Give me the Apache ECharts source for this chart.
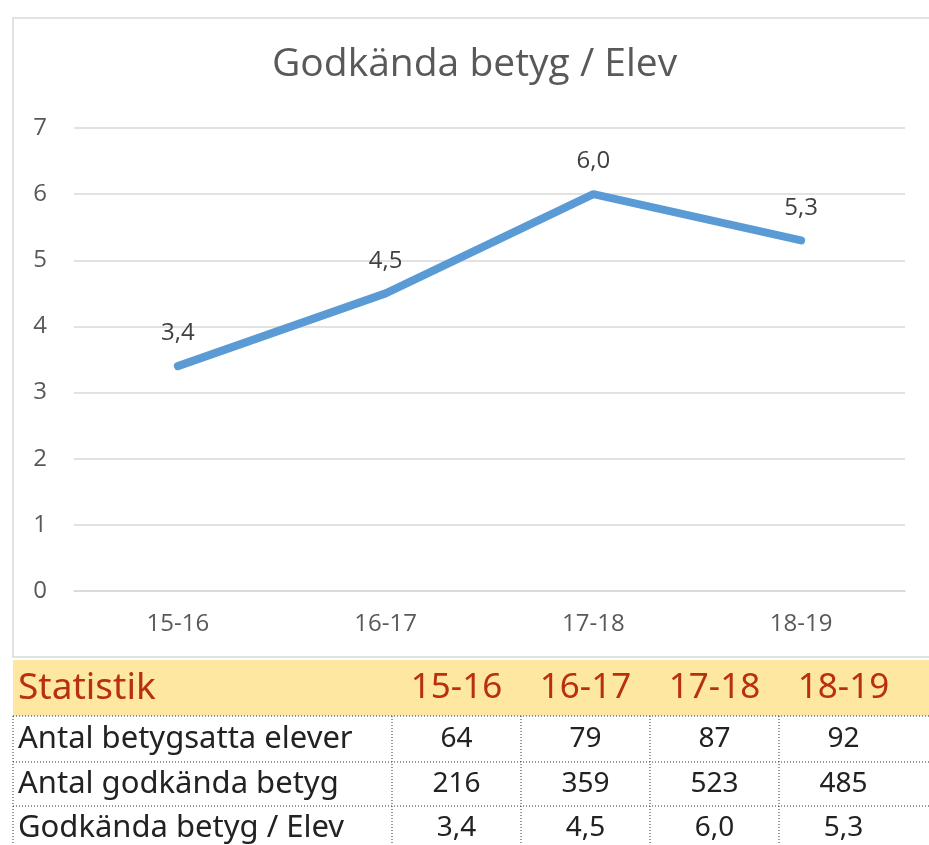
<!DOCTYPE html>
<html>
<head>
<meta charset="utf-8">
<script src="https://cdn.jsdelivr.net/npm/echarts@6/dist/echarts.min.js"></script>
<style>html,body{margin:0;padding:0;background:#fff}#c{width:929px;height:845px}</style>
</head>
<body>
<div id="c"></div>
<script>
const chartTitle = 'Godkända betyg / Elev';
const categories = ['15-16', '16-17', '17-18', '18-19'];
const values = [3.4, 4.5, 6.0, 5.3];
const yTicks = [0, 1, 2, 3, 4, 5, 6, 7];
const tableTitle = 'Statistik';
const rowLabels = ['Antal betygsatta elever', 'Antal godkända betyg', 'Godkända betyg / Elev'];
const students = [64, 79, 87, 92];
const passed = [216, 359, 523, 485];
const perStudent = [3.4, 4.5, 6.0, 5.3];

const fmt1 = v => v.toFixed(1).replace('.', ',');

const chart = echarts.init(document.getElementById('c'), null, {renderer: 'canvas'});
const FONT = 'Open Sans';
const TFONT = 'Noto Sans';

// table layout
const colEdges = [13, 392, 521, 650, 779, 908];
const headTop = 660, rowEdges = [716, 762, 806, 850];
const g = [];
g.push({type: 'rect', shape: {x: 13, y: 18, width: 940, height: 639}, style: {fill: 'none', stroke: '#d9d9d9', lineWidth: 1.5}, z: 0});
g.push({type: 'rect', shape: {x: 13, y: headTop, width: 920, height: rowEdges[0] - headTop}, style: {fill: '#fee7a0'}, z: 1});
g.push({type: 'text', x: 18, y: (headTop + rowEdges[0]) / 2, style: {text: tableTitle, font: '37px "' + TFONT + '"', fill: '#b8300c', textVerticalAlign: 'middle', textAlign: 'left'}, z: 2});
categories.forEach((c, i) => {
  g.push({type: 'text', x: (colEdges[i + 1] + colEdges[i + 2]) / 2, y: (headTop + rowEdges[0]) / 2, style: {text: c, font: '35px "' + TFONT + '"', fill: '#b8300c', textVerticalAlign: 'middle', textAlign: 'center'}, z: 2});
});
const rows = [students.map(String), passed.map(String), perStudent.map(fmt1)];
rows.forEach((r, ri) => {
  const cy = (rowEdges[ri] + rowEdges[ri + 1]) / 2;
  g.push({type: 'text', x: 18, y: cy, style: {text: rowLabels[ri], font: '31px "' + TFONT + '"', fill: '#222', textVerticalAlign: 'middle', textAlign: 'left'}, z: 2});
  r.forEach((v, ci) => {
    g.push({type: 'text', x: (colEdges[ci + 1] + colEdges[ci + 2]) / 2, y: cy, style: {text: v, font: '28px "' + TFONT + '"', fill: '#222', textVerticalAlign: 'middle', textAlign: 'center'}, z: 2});
  });
});
const dash = {stroke: '#333', lineWidth: 1, lineDash: [1, 2]};
rowEdges.slice(0, 3).forEach(y => g.push({type: 'line', shape: {x1: 13, y1: y, x2: 929, y2: y}, style: dash, z: 3}));
colEdges.slice(0, 5).forEach(x => g.push({type: 'line', shape: {x1: x, y1: rowEdges[0], x2: x, y2: 845}, style: dash, z: 3}));

chart.setOption({
  animation: false,
  backgroundColor: '#fff',
  title: {text: chartTitle, left: 267, top: 40, textStyle: {fontFamily: FONT, fontSize: 39, fontWeight: 'normal', color: '#595959'}},
  grid: {left: 74, right: 24, top: 128, bottom: 254, containLabel: false},
  xAxis: {
    type: 'category', data: categories, boundaryGap: true,
    axisLine: {lineStyle: {color: '#d9d9d9', width: 1.5}},
    axisTick: {show: false},
    axisLabel: {color: '#595959', fontFamily: FONT, fontSize: 24, margin: 21}
  },
  yAxis: {
    type: 'value', min: yTicks[0], max: yTicks[yTicks.length - 1], interval: 1,
    axisLine: {show: false}, axisTick: {show: false},
    splitLine: {lineStyle: {color: '#d9d9d9', width: 1.5}},
    axisLabel: {color: '#595959', fontFamily: FONT, fontSize: 24, margin: 27}
  },
  series: [{
    type: 'line', data: values, symbol: 'circle', symbolSize: 1, showSymbol: true,
    itemStyle: {color: 'rgba(0,0,0,0)'},
    lineStyle: {color: '#5b9bd5', width: 8, cap: 'round'},
    label: {show: true, position: 'top', distance: 20, color: '#404040', fontFamily: FONT, fontSize: 24, formatter: p => fmt1(p.value)}
  }],
  graphic: g
});
</script>
</body>
</html>
